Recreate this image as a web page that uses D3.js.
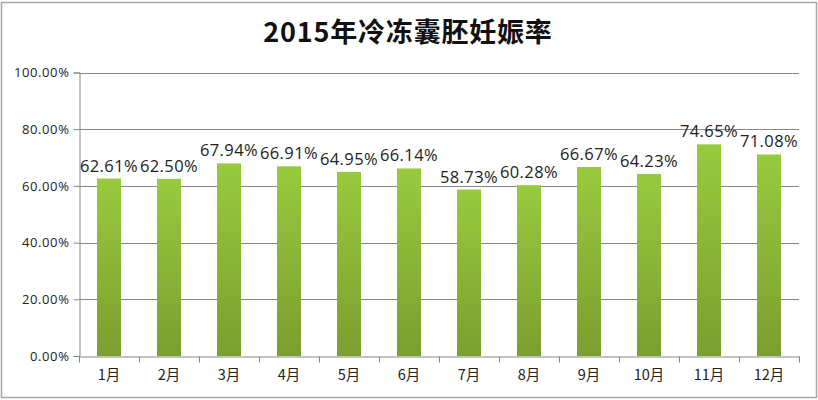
<!DOCTYPE html>
<html><head><meta charset="utf-8">
<script src="https://cdn.jsdelivr.net/npm/d3@7"></script>
<style>body{margin:0;background:#fff}svg{display:block}</style>
</head><body><svg id="c" width="818" height="400"></svg>
<script>
const title = "2015年冷冻囊胚妊娠率";
const months = ["1月","2月","3月","4月","5月","6月","7月","8月","9月","10月","11月","12月"];
const rates = [62.61,62.50,67.94,66.91,64.95,66.14,58.73,60.28,66.67,64.23,74.65,71.08];
const yTicks = [0,20,40,60,80,100];

const svg = d3.select("#c");
const W = 818, H = 400;
const m = {l:79, r:19, t:72.5, b:44};
const x = d3.scaleBand().domain(months).range([m.l, W-m.r]).paddingInner(0.6).paddingOuter(0.3);
const y = d3.scaleLinear().domain([0,100]).range([H-m.b, m.t]);

const defs = svg.append("defs");
const g1 = defs.append("linearGradient").attr("id","bg").attr("x1",0).attr("y1",0).attr("x2",0).attr("y2",1);
g1.append("stop").attr("offset","0%").attr("stop-color","#98ca3e");
g1.append("stop").attr("offset","100%").attr("stop-color","#7b9f2f");

svg.append("rect").attr("x",1.5).attr("y",2.5).attr("width",W-3).attr("height",H-5)
  .attr("fill","#fff").attr("stroke","#a6a6a6").attr("stroke-width",1.5);

svg.append("text").attr("x",408).attr("y",42).attr("text-anchor","middle")
  .attr("font-family","'Noto Sans CJK SC', sans-serif").attr("font-weight","bold")
  .attr("font-size",27).attr("letter-spacing",0.8).attr("fill","#111").text(title);

// gridlines
svg.append("g").selectAll("line").data(yTicks.filter(d=>d>0)).join("line")
  .attr("x1",m.l).attr("x2",W-m.r).attr("y1",d=>Math.round(y(d))+0.5).attr("y2",d=>Math.round(y(d))+0.5)
  .attr("stroke","#868686").attr("stroke-width",1);

// y axis
const ya = svg.append("g").attr("transform",`translate(${m.l+0.5},0)`)
  .call(d3.axisLeft(y).tickValues(yTicks).tickSize(6).tickFormat(d=>d.toFixed(2)+"%"));
ya.select(".domain").attr("stroke","#868686");
ya.selectAll(".tick line").attr("stroke","#868686");
ya.selectAll("text").attr("font-family","'Open Sans', sans-serif").attr("font-size",13).attr("letter-spacing",0.6).attr("fill","#222").attr("x",-10);

// x axis
const xa = svg.append("g").attr("transform",`translate(0,${H-m.b+0.5})`)
  .call(d3.axisBottom(x).tickSize(0));
xa.select(".domain").attr("stroke","#868686");
xa.selectAll("text").attr("font-family","'Noto Sans CJK SC', sans-serif").attr("font-size",14.5).attr("fill","#222").attr("dy",20);
const bounds = d3.range(months.length+1).map(i => m.l + (W-m.l-m.r)/months.length*i);
xa.append("g").selectAll("line").data(bounds).join("line")
  .attr("x1",d=>Math.round(d)+0.5).attr("x2",d=>Math.round(d)+0.5).attr("y1",0).attr("y2",6).attr("stroke","#868686");

// bars
svg.append("g").selectAll("rect").data(rates).join("rect")
  .attr("x",(d,i)=>x(months[i])).attr("width",x.bandwidth())
  .attr("y",d=>y(d)).attr("height",d=>y(0)-y(d)).attr("fill","url(#bg)");

// labels
svg.append("g").selectAll("text").data(rates).join("text")
  .attr("x",(d,i)=>x(months[i])+x.bandwidth()/2).attr("y",d=>y(d)-7)
  .attr("text-anchor","middle").attr("font-family","'Open Sans', sans-serif").attr("font-size",16.5).attr("letter-spacing",0.4).attr("fill","#222")
  .text(d=>d.toFixed(2)+"%");
</script></body></html>
